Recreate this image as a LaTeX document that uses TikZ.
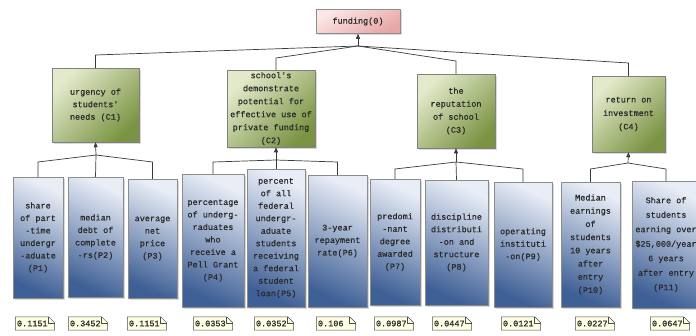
\documentclass[tikz,border=0pt]{standalone}
\usepackage{fontspec}
\setmonofont{Liberation Mono}
\newfontfamily\boxfont[FakeBold=0.6]{Liberation Mono}
\usetikzlibrary{arrows.meta,shadows,backgrounds}
\definecolor{cboxlight}{HTML}{E3EACB}
\definecolor{cboxdark}{HTML}{7B9444}
\definecolor{pboxlight}{HTML}{E8EDF6}
\definecolor{pboxdark}{HTML}{3F6096}
\definecolor{rootlight}{HTML}{FBE7E7}
\definecolor{rootdark}{HTML}{E8A6A6}
\definecolor{notefill}{HTML}{FFFFE4}
\definecolor{linecol}{HTML}{3A3A3A}
\definecolor{txtcol}{HTML}{2A2A2A}
\begin{document}
\begin{tikzpicture}[x=1pt,y=-1pt,
  box/.style={draw=black!50, line width=0.5pt, inner sep=1pt, align=center, text=txtcol,
    font=\boxfont\fontsize{8.5}{12.5}\selectfont,
    drop shadow={shadow xshift=1.5pt, shadow yshift=-1.5pt, opacity=0.3}},
  rootbox/.style={box, top color=rootlight, bottom color=rootdark, shading angle=30, draw=black!45},
  cbox/.style={box, top color=cboxlight, bottom color=cboxdark, shading angle=45},
  pbox/.style={box, top color=pboxlight, bottom color=pboxdark, shading angle=-25, draw=black!45},
  note/.style={font=\boxfont\fontsize{8.5}{10}\selectfont, text=txtcol, text width=36pt, align=left,
    inner xsep=1.5pt, inner ysep=0pt, minimum height=13pt},
  conn/.style={draw=linecol, line width=0.7pt},
  uparrow/.style={conn, -{Triangle[length=5pt,width=4pt]}}
]
\useasboundingbox (0,0) rectangle (696,335);

% root and criteria
\node[rootbox, minimum width=84pt, minimum height=24pt] (root) at (358,21.5) {funding(0)};
\node[cbox, minimum width=87pt, minimum height=74pt] (C1) at (95.5,105) {urgency of\\students'\\needs (C1)};
\node[cbox, minimum width=88pt, minimum height=77pt, font=\boxfont\fontsize{8.5}{13}\selectfont] (C2) at (271,108.5) {school's\\demonstrate\\potential for\\effective use of\\private funding\\(C2)};
\node[cbox, minimum width=78pt, minimum height=74pt, font=\boxfont\fontsize{8.5}{13}\selectfont] (C3) at (456,111) {the\\reputation\\of school\\(C3)};
\node[cbox, minimum width=73pt, minimum height=76pt, font=\boxfont\fontsize{8.5}{13.5}\selectfont] (C4) at (628.5,114) {return on\\investment\\(C4)};

% indicators
\node[pbox, minimum width=50pt, minimum height=121pt] (P1) at (38,237.5) {share\\of part\\-time\\undergr\\-aduate\\(P1)};
\node[pbox, minimum width=55pt, minimum height=120pt] (P2) at (95.5,237) {median\\debt of\\complete\\-rs(P2)};
\node[pbox, minimum width=49pt, minimum height=119pt] (P3) at (152.5,238.5) {average\\net\\price\\(P3)};
\node[pbox, minimum width=62pt, minimum height=133pt] (P4) at (213,240.5) {percentage\\of underg-\\raduates\\who\\receive a\\Pell Grant\\(P4)};
\node[pbox, minimum width=58pt, minimum height=138pt] (P5) at (276,238) {percent\\of all\\federal\\undergr-\\aduate\\students\\receiving\\a federal\\student\\loan(P5)};
\node[pbox, minimum width=59pt, minimum height=132pt] (P6) at (337.5,241) {3-year\\repayment\\rate(P6)};
\node[pbox, minimum width=50pt, minimum height=126pt] (P7) at (395,242) {predomi\\-nant\\degree\\awarded\\(P7)};
\node[pbox, minimum width=63pt, minimum height=125pt] (P8) at (456.5,242.5) {discipline\\distributi\\-on and\\structure\\(P8)};
\node[pbox, minimum width=58pt, minimum height=125pt] (P9) at (523,244.5) {operating\\instituti\\-on(P9)};
\node[pbox, minimum width=59pt, minimum height=125pt, font=\boxfont\fontsize{8.5}{13.2}\selectfont] (P10) at (590.5,244.5) {Median\\earnings\\of\\students\\10 years\\after\\entry\\(P10)};
\node[pbox, minimum width=68pt, minimum height=127pt, font=\boxfont\fontsize{8.5}{14.5}\selectfont] (P11) at (666,244.5) {Share of\\students\\earning over\\\$25,000/year\\6 years\\after entry\\(P11)};

% weights
\node[note] (n1) at (35,323.5) {0.1151};
\node[note] (n2) at (88,323.5) {0.3452};
\node[note] (n3) at (147,323.5) {0.1151};
\node[note] (n4) at (213,323.5) {0.0353};
\node[note] (n5) at (274,323.5) {0.0352};
\node[note] (n6) at (336,323.5) {0.106};
\node[note] (n7) at (394,323.5) {0.0987};
\node[note] (n8) at (452,323.5) {0.0447};
\node[note] (n9) at (521,323.5) {0.0121};
\node[note] (n10) at (595,323.5) {0.0227};
\node[note] (n11) at (670,323.5) {0.0647};
\begin{scope}[on background layer]
\foreach \n in {n1,n2,n3,n4,n5,n6,n7,n8,n9,n10,n11} {
  \draw[fill=notefill, draw=black!70, line width=0.5pt]
    (\n.south west) -- (\n.north west) -- ([xshift=-6pt]\n.north east)
    -- ([yshift=-6pt]\n.north east) -- (\n.south east) -- cycle;
  \draw[draw=black!70, line width=0.5pt]
    ([xshift=-6pt]\n.north east) -- ([xshift=-6pt,yshift=-6pt]\n.north east)
    -- ([yshift=-6pt]\n.north east);
}
\end{scope}

% junctions
\coordinate (J0) at (358,46);
\coordinate (J1) at (96,155);
\coordinate (J2) at (276,160);
\coordinate (J3) at (456,162);
\coordinate (J4) at (628,163);

% top level
\draw[uparrow] (J0) -- (root.south);
\draw[conn] (C1.north) -- (C1.north |- 0,55) -- (J0);
\draw[conn] ([xshift=5pt]C2.north) -- ([xshift=5pt]C2.north |- 0,58) -- (J0);
\draw[conn] (C3.north) -- (C3.north |- 0,61) -- (J0);
\draw[conn] (C4.north) -- (C4.north |- 0,63) -- (J0);

% group C1
\draw[uparrow] (J1) -- (C1.south);
\draw[conn] (P1.north) -- (P1.north |- 0,162) -- (J1);
\draw[conn] (P2.north) -- (J1);
\draw[conn] (P3.north) -- (P3.north |- 0,162) -- (J1);

% group C2
\draw[uparrow] (J2) -- ([xshift=5pt]C2.south);
\draw[conn] (P4.north) -- (P4.north |- 0,162) -- (J2);
\draw[conn] (P5.north) -- (J2);
\draw[conn] (P6.north) -- (P6.north |- 0,162) -- (J2);

% group C3
\draw[uparrow] (J3) -- (C3.south);
\draw[conn] (P7.north) -- (P7.north |- 0,169) -- (J3);
\draw[conn] (P8.north) -- (J3);
\draw[conn] (P9.north) -- (P9.north |- 0,169) -- (J3);

% group C4
\draw[uparrow] (J4) -- (C4.south);
\draw[conn] (P10.north) -- (P10.north |- 0,169) -- (J4);
\draw[conn] (P11.north) -- (P11.north |- 0,169) -- (J4);
\end{tikzpicture}
\end{document}
